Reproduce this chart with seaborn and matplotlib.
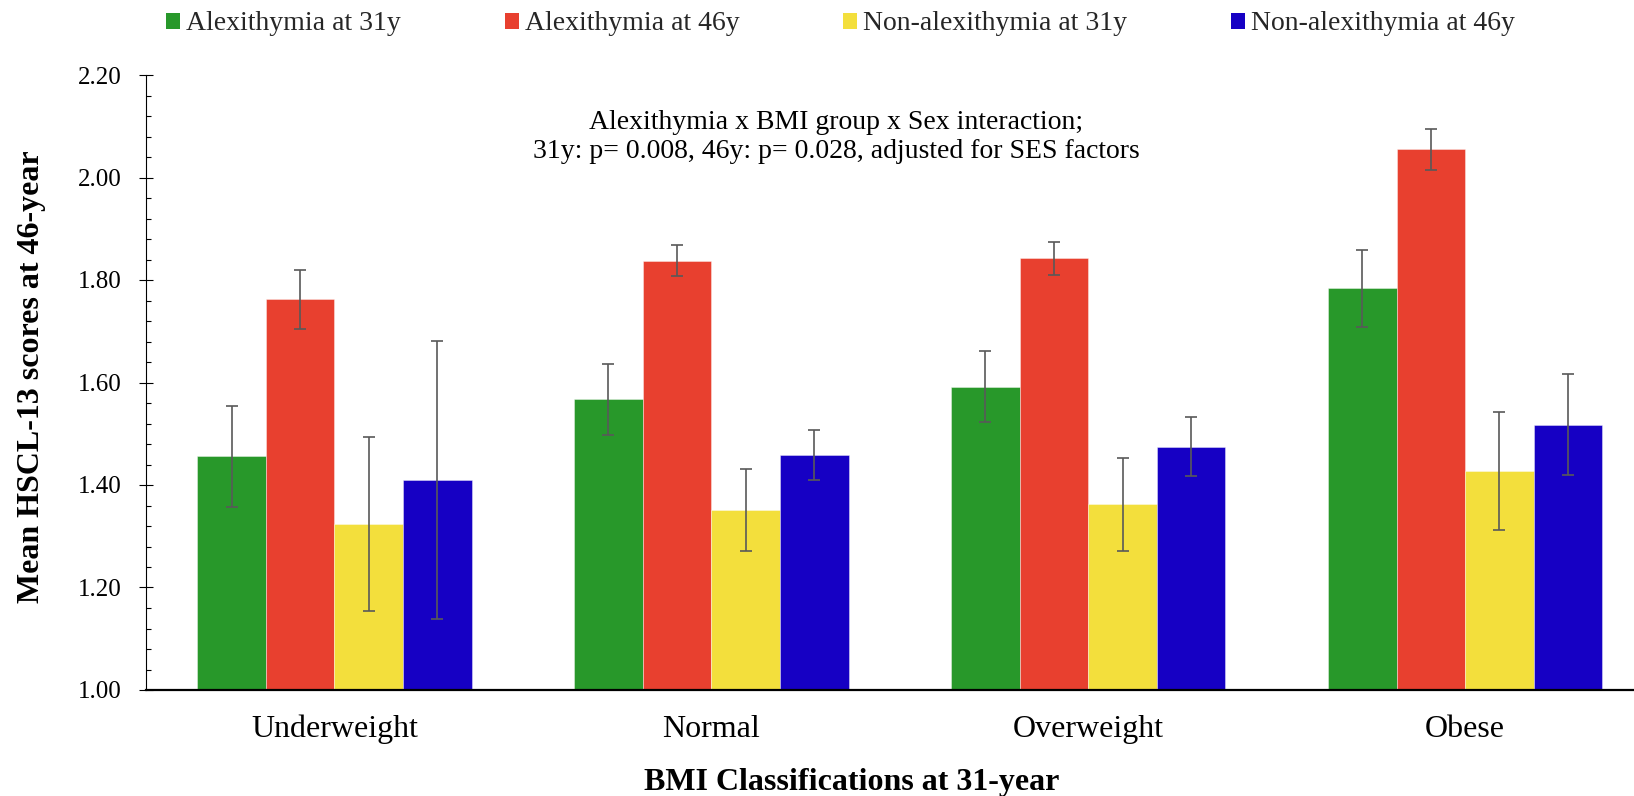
import matplotlib
matplotlib.use("Agg")
import matplotlib.pyplot as plt
from matplotlib.colors import to_rgba
from matplotlib.ticker import MultipleLocator, FormatStrFormatter
import numpy as np
import pandas as pd
import seaborn as sns

# BMI groups at 31 years
categories = ["Underweight", "Normal", "Overweight", "Obese"]
series_names = ["Alexithymia at 31y", "Alexithymia at 46y",
                "Non-alexithymia at 31y", "Non-alexithymia at 46y"]

# Mean HSCL-13 scores at 46 years
alex_31y = [1.456, 1.567, 1.592, 1.784]
alex_46y = [1.762, 1.838, 1.842, 2.055]
nonalex_31y = [1.324, 1.352, 1.362, 1.428]
nonalex_46y = [1.410, 1.458, 1.475, 1.518]

# Error bar half-widths
alex_31y_err = [0.098, 0.069, 0.070, 0.075]
alex_46y_err = [0.058, 0.031, 0.033, 0.040]
nonalex_31y_err = [0.170, 0.080, 0.090, 0.115]
nonalex_46y_err = [0.271, 0.049, 0.058, 0.098]

colors = ["#28982A", "#E8402F", "#F3DF3C", "#1600C4"]

annotation = ("Alexithymia x BMI group x Sex interaction;\n"
              "31y: p= 0.008, 46y: p= 0.028, adjusted for SES factors")

values = [alex_31y, alex_46y, nonalex_31y, nonalex_46y]
errors = [alex_31y_err, alex_46y_err, nonalex_31y_err, nonalex_46y_err]

rows = []
for name, vals, errs in zip(series_names, values, errors):
    for cat, v, e in zip(categories, vals, errs):
        rows.append({"bmi": cat, "group": name, "score": v, "err": e})
df = pd.DataFrame(rows)

sns.set_style("ticks")
plt.rcParams["font.family"] = ["Liberation Serif", "DejaVu Serif"]

W, H = 1634, 796
fig = plt.figure(figsize=(W / 100, H / 100), dpi=100)
ax = fig.add_axes([146 / W, (H - 690) / H, (W - 146) / W, (690 - 75) / H])

sns.barplot(data=df, x="bmi", y="score", hue="group", order=categories,
            hue_order=series_names, palette=colors, saturation=1,
            width=0.728, gap=0, errorbar=None, ax=ax,
            edgecolor=(1, 1, 1, 0.45), linewidth=0.6, legend=True)

# error bars placed on the drawn bars
err_lookup = {(r.group, r.bmi): r.err for r in df.itertuples()}
color_to_name = {to_rgba(c): n for c, n in zip(colors, series_names)}
for bar in ax.patches:
    h = bar.get_height()
    if not np.isfinite(h) or bar.get_width() == 0:
        continue
    fc = tuple(np.round(bar.get_facecolor(), 4))
    name = None
    for c, n in color_to_name.items():
        if np.allclose(fc, c, atol=1e-3):
            name = n
    if name is None:
        continue
    cx = bar.get_x() + bar.get_width() / 2
    cat = categories[int(round(cx))]
    ax.errorbar(cx, h, yerr=err_lookup[(name, cat)], fmt="none",
                ecolor="#595959", elinewidth=1.2, capsize=4.5,
                capthick=1.2, zorder=5)

ax.set_ylim(1.0, 2.2)
ax.set_xlim(-0.5, 3.448)
ax.yaxis.set_major_locator(MultipleLocator(0.2))
ax.yaxis.set_minor_locator(MultipleLocator(0.04))
ax.yaxis.set_major_formatter(FormatStrFormatter("%.2f"))
ax.tick_params(axis="y", which="major", direction="inout", length=9.5,
               width=0.8, labelsize=18, pad=12.5, color="black",
               labelcolor="black")
ax.tick_params(axis="y", which="minor", direction="in", length=3.4,
               width=0.8, color="black")
ax.tick_params(axis="x", length=0, labelsize=23, pad=18, labelcolor="black")

for side in ("top", "right"):
    ax.spines[side].set_visible(False)
ax.spines["left"].set_color("black")
ax.spines["left"].set_linewidth(0.8)
ax.spines["bottom"].set_color("black")
ax.spines["bottom"].set_linewidth(1.6)

ax.set_xlabel("BMI Classifications at 31-year", fontsize=23,
              fontweight="bold", va="baseline", color="black")
ax.xaxis.set_label_coords((851.5 - 146) / 1488, (690 - 790) / 615)
ax.set_ylabel("Mean HSCL-13 scores at 46-year", fontsize=23,
              fontweight="bold", va="center", color="black")
ax.yaxis.set_label_coords((32 - 146) / 1488, (690 - 377) / 615)

# two-line note; the vertical anchor sits on the baseline of the last line
ax.text((836 - 146) / 1488, (690 - 158) / 615, annotation,
        transform=ax.transAxes, ha="center", va="baseline",
        multialignment="center", fontsize=20, color="black")

leg = ax.get_legend()
handles = leg.legend_handles
labels = [t.get_text() for t in leg.get_texts()]
leg.remove()
for hnd in handles:
    hnd.set_edgecolor("none")
fig.legend(handles, labels, loc="center left",
           bbox_to_anchor=(166 / W, 1 - 24 / H), ncol=4, frameon=False,
           fontsize=20, handlelength=0.5, handleheight=0.5,
           handletextpad=0.22, columnspacing=3.74, borderpad=0,
           borderaxespad=0)

fig.savefig("out.png", dpi=100)
